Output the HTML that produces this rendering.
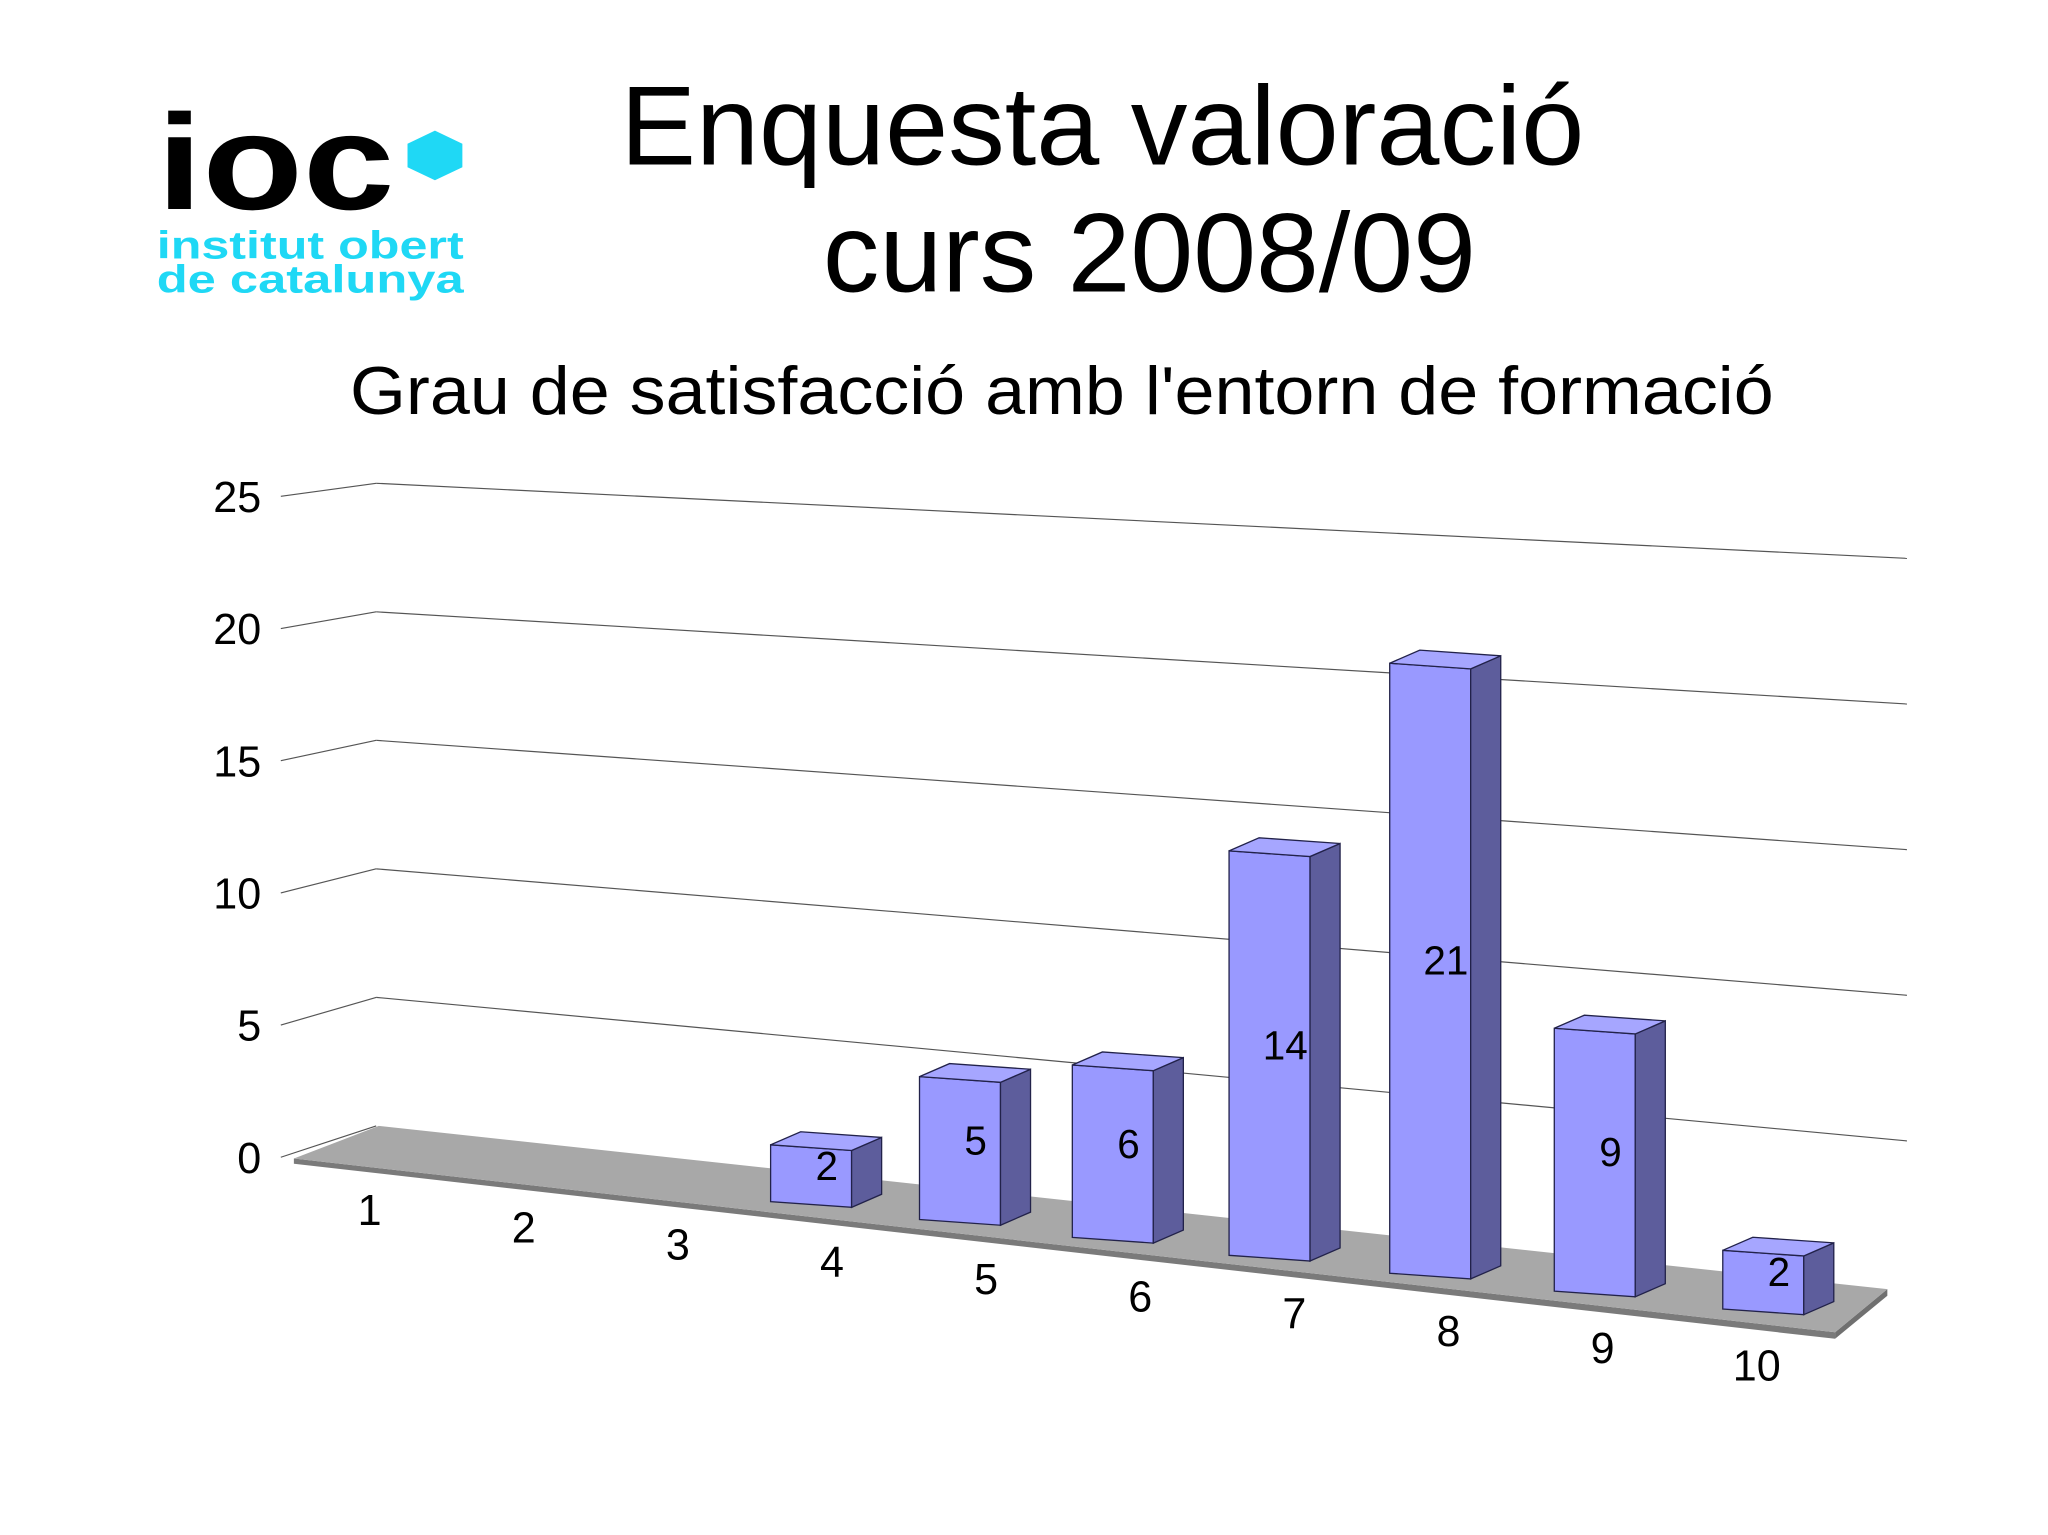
<!DOCTYPE html>
<html><head><meta charset="utf-8"><style>
html,body{margin:0;padding:0;background:#fff;}
svg{display:block;}
text{font-family:"Liberation Sans",sans-serif;}
</style></head><body>
<svg id="chart" width="2048" height="1535" viewBox="0 0 1568 1175.2" xmlns="http://www.w3.org/2000/svg">
<g>
<text x="120" y="160" font-size="104" font-weight="bold" fill="#000" textLength="182" lengthAdjust="spacingAndGlyphs">ioc</text>
<polygon points="333,100 354,110 354,128 333,138 312,128 312,110" fill="#1fd8f5"/>
<text x="120" y="198" font-size="30" font-weight="bold" fill="#1fd8f5" textLength="235" lengthAdjust="spacingAndGlyphs">institut obert</text>
<text x="120" y="224" font-size="30" font-weight="bold" fill="#1fd8f5" textLength="235" lengthAdjust="spacingAndGlyphs">de catalunya</text>
</g>
<text x="475" y="126" font-size="86" fill="#000" textLength="738" lengthAdjust="spacingAndGlyphs">Enquesta valoració</text>
<text x="630" y="223" font-size="86" fill="#000" textLength="500" lengthAdjust="spacingAndGlyphs">curs 2008/09</text>
<text x="268" y="317" font-size="52" fill="#000" textLength="1090" lengthAdjust="spacingAndGlyphs">Grau de satisfacció amb l'entorn de formació</text>
<g id="plot"></g>
</svg>
<script>
const categories = ["1","2","3","4","5","6","7","8","9","10"];
const values = [0,0,0,2,5,6,14,21,9,2];
const yTicks = [0,5,10,15,20,25];

const NS = "http://www.w3.org/2000/svg";
const plot = document.getElementById('plot');
function mk(tag, attrs, parent){const e=document.createElementNS(NS,tag);for(const k in attrs)e.setAttribute(k,attrs[k]);(parent||plot).appendChild(e);return e;}
function gridLeftY(v){return 862 - v*19.68;}
function gridRightY(v){return 985 - v*22.3;}
function tickLabelY(v){return 886 - v*20.24;}
function barX(i){const k=i-3;return 590 + 114*k + 1.5*k*(k-1);}
function barBottom(i){return 920 + (i-3)*13.7;}
function unit(i){return 21.4 + i*0.12;}
function yOf(i,v){return barBottom(i) - v*unit(i);}

yTicks.forEach(v=>{
  const yl=gridLeftY(v);
  if(v>0){
    const g=mk('line',{x1:288,y1:yl,x2:1460,y2:gridRightY(v),stroke:'#555','stroke-width':0.9});
    
    
  }
  const ty=tickLabelY(v);
  const t=mk('line',{x1:215,y1:ty,x2:288,y2:yl,stroke:'#555','stroke-width':0.9});
  
  
  const lab=mk('text',{x:200,y:ty+12,'font-size':33,'text-anchor':'end',fill:'#000'});
  lab.textContent=v;
  
  
});

const floorEdge=mk('polygon',{points:'225,887 1405,1020 1405,1025 225,891',fill:'#7a7a7a'});


const floorSide=mk('polygon',{points:'1405,1020 1445,987 1445,992 1405,1025',fill:'#707070'});


const floor=mk('polygon',{points:'225,887 290,862 1445,987 1405,1020',fill:'#a8a8a8'});



const W=62, DX=23, DY=-10;
categories.forEach((c,i)=>{
  const lx=283 + i*118, ly=938 + i*13.2;
  const lab=mk('text',{x:lx,y:ly,'font-size':33,'text-anchor':'middle',fill:'#000'});
  lab.textContent=c;
  
  
  const v=values[i];
  if(v<=0) return;
  const x=barX(i), b=barBottom(i), t=yOf(i,v), sl=W*0.07;
  const g=mk('g',{});
  
  
  mk('polygon',{points:`${x},${t} ${x+W},${t+sl} ${x+W},${b+sl} ${x},${b}`,fill:'#9999ff',stroke:'#22224a','stroke-width':1},g);
  mk('polygon',{points:`${x+W},${t+sl} ${x+W+DX},${t+sl+DY} ${x+W+DX},${b+sl+DY} ${x+W},${b+sl}`,fill:'#5d5d9c',stroke:'#22224a','stroke-width':1},g);
  mk('polygon',{points:`${x},${t} ${x+DX},${t+DY} ${x+W+DX},${t+sl+DY} ${x+W},${t+sl}`,fill:'#a6a6ff',stroke:'#22224a','stroke-width':1},g);
  const vl=mk('text',{x:x+W/2+12,y:(t+b)/2+5,'font-size':31,'text-anchor':'middle',fill:'#000'},g);
  vl.textContent=v;
  
  
});
</script>
</body></html>
